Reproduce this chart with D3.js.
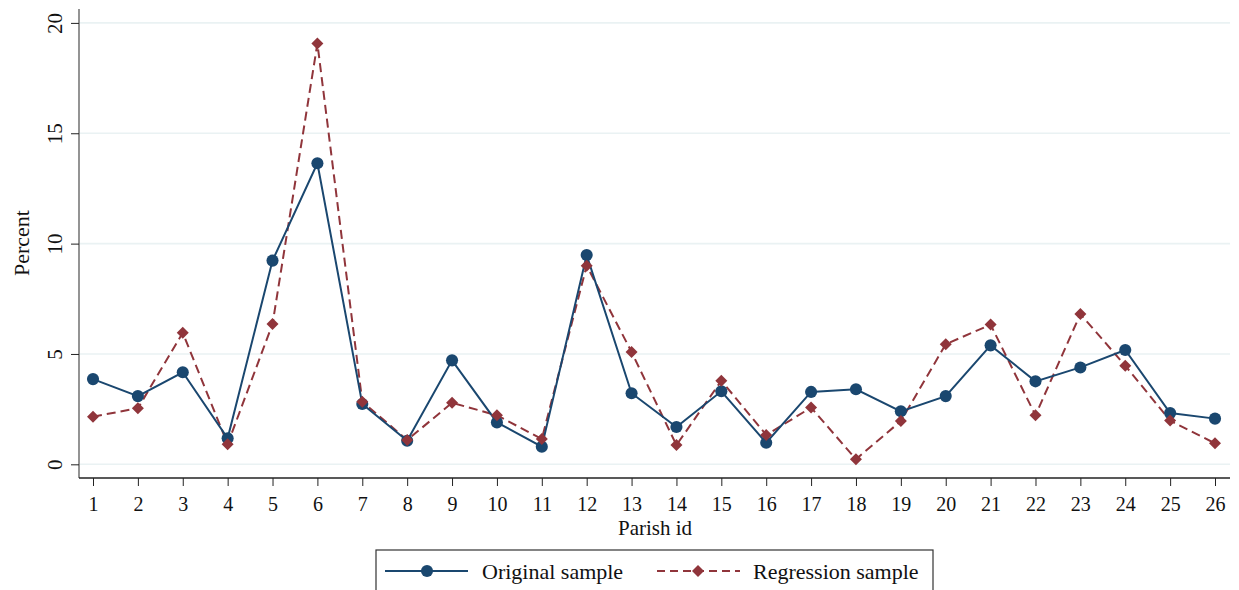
<!DOCTYPE html>
<html>
<head>
<meta charset="utf-8">
<script src="https://cdn.jsdelivr.net/npm/d3@7"></script>
<style>
  html, body { margin: 0; padding: 0; background: #fff; }
  svg { display: block; font-family: "Liberation Serif", "Times New Roman", serif; }
</style>
</head>
<body>
<svg id="chart" width="1239" height="590"></svg>
<script>
const parishIds = [1,2,3,4,5,6,7,8,9,10,11,12,13,14,15,16,17,18,19,20,21,22,23,24,25,26];
const originalSample = [3.86,3.09,4.17,1.18,9.23,13.64,2.73,1.07,4.71,1.90,0.80,9.48,3.22,1.69,3.31,0.98,3.28,3.40,2.40,3.09,5.39,3.76,4.39,5.18,2.32,2.07];
const regressionSample = [2.16,2.54,5.96,0.91,6.36,19.07,2.84,1.10,2.79,2.22,1.15,9.00,5.09,0.87,3.79,1.33,2.57,0.23,1.96,5.44,6.33,2.22,6.81,4.47,1.98,0.95];
const yTicks = [0,5,10,15,20];
const seriesNames = ["Original sample", "Regression sample"];
const xTitle = "Parish id";
const yTitle = "Percent";

(function () {
const navy = "#1a476f", maroon = "#90353b";
const svg = d3.select("#chart");

const pL = 79, pR = 1230, pT = 9, pB = 478;
const x = d3.scaleLinear().domain([0.688, 26.334]).range([pL, pR]);
const y = d3.scaleLinear().domain([-0.62, 20.63]).range([pB, pT]);

// gridlines
svg.append("g").selectAll("line").data(yTicks).join("line")
  .attr("x1", pL + 1).attr("x2", pR)
  .attr("y1", d => y(d)).attr("y2", d => y(d))
  .attr("stroke", "#eaf2f3").attr("stroke-width", 1.6);

// y axis
const yAxis = svg.append("g").attr("transform", `translate(${pL},0)`)
  .call(d3.axisLeft(y).tickValues(yTicks).tickSize(8).tickFormat(d3.format("d")));
yAxis.attr("font-family", null).attr("font-size", null);
yAxis.select(".domain").attr("d", `M0,${pT}V${pB}`).attr("stroke", "#666").attr("stroke-width", 1.4);
yAxis.selectAll(".tick line").attr("stroke", "#222");
yAxis.selectAll(".tick text")
  .attr("x", null).attr("dy", null)
  .attr("transform", "translate(-17,0) rotate(-90)")
  .attr("text-anchor", "middle")
  .attr("font-size", 21).attr("fill", "#111");

// x axis
const xAxis = svg.append("g").attr("transform", `translate(0,${pB})`)
  .call(d3.axisBottom(x).tickValues(parishIds).tickSize(8).tickFormat(d3.format("d")));
xAxis.attr("font-family", null).attr("font-size", null);
xAxis.select(".domain").attr("d", `M${pL},0H${pR}`).attr("stroke", "#222").attr("stroke-width", 1.4);
xAxis.selectAll(".tick line").attr("stroke", "#222");
xAxis.selectAll(".tick text")
  .attr("y", 33).attr("dy", null)
  .attr("font-size", 20).attr("fill", "#111");

// axis titles
svg.append("text").attr("x", 655).attr("y", 535)
  .attr("text-anchor", "middle").attr("font-size", 21).attr("fill", "#111").text(xTitle);
svg.append("text").attr("transform", `translate(29,243) rotate(-90)`)
  .attr("text-anchor", "middle").attr("font-size", 22).attr("fill", "#111").text(yTitle);

// lines
const lineGen = vals => d3.line().x((d, i) => x(parishIds[i])).y(d => y(d))(vals);
svg.append("path").attr("d", lineGen(regressionSample))
  .attr("fill", "none").attr("stroke", maroon).attr("stroke-width", 2)
  .attr("stroke-dasharray", "9,5");
svg.append("path").attr("d", lineGen(originalSample))
  .attr("fill", "none").attr("stroke", navy).attr("stroke-width", 2);

// markers
const circleSym = d3.symbol().type(d3.symbolCircle).size(115);
const diamondSym = d3.symbol().type(d3.symbolSquare).size(72);
svg.append("g").selectAll("path").data(originalSample).join("path")
  .attr("d", circleSym)
  .attr("transform", (d, i) => `translate(${x(parishIds[i])},${y(d)})`)
  .attr("fill", navy);
svg.append("g").selectAll("path").data(regressionSample).join("path")
  .attr("d", diamondSym)
  .attr("transform", (d, i) => `translate(${x(parishIds[i])},${y(d)}) rotate(45)`)
  .attr("fill", maroon);

// legend
const lg = svg.append("g");
lg.append("rect").attr("x", 376).attr("y", 550).attr("width", 557).attr("height", 50)
  .attr("fill", "#fff").attr("stroke", "#333").attr("stroke-width", 1.2);
const ly = 571;
lg.append("line").attr("x1", 385).attr("x2", 468).attr("y1", ly).attr("y2", ly)
  .attr("stroke", navy).attr("stroke-width", 2);
lg.append("path").attr("d", circleSym).attr("transform", `translate(427,${ly})`).attr("fill", navy);
lg.append("text").attr("x", 482).attr("y", ly + 8).attr("font-size", 22).attr("fill", "#111").text(seriesNames[0]);
lg.append("line").attr("x1", 657).attr("x2", 740).attr("y1", ly).attr("y2", ly)
  .attr("stroke", maroon).attr("stroke-width", 2).attr("stroke-dasharray", "8,5");
lg.append("path").attr("d", diamondSym).attr("transform", `translate(698,${ly}) rotate(45)`).attr("fill", maroon);
lg.append("text").attr("x", 753).attr("y", ly + 8).attr("font-size", 22).attr("fill", "#111").text(seriesNames[1]);
})();
</script>
</body>
</html>
